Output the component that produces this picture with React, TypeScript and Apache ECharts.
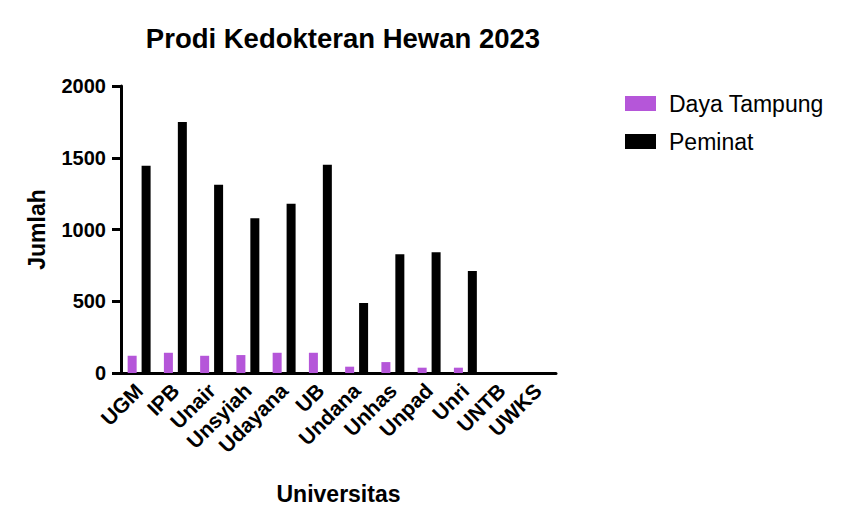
import React, { useEffect, useRef } from "react";
import * as echarts from "echarts";

const categories = ["UGM", "IPB", "Unair", "Unsyiah", "Udayana", "UB", "Undana", "Unhas", "Unpad", "Unri", "UNTB", "UWKS"];
const dayaTampung = [120, 141, 120, 125, 141, 141, 44, 76, 37, 37, 0, 0];
const peminat = [1445, 1750, 1312, 1078, 1180, 1451, 488, 828, 842, 710, 0, 0];
const yTicks = { min: 0, max: 2000, interval: 500 };

const FONT = "'Liberation Sans', Arial, sans-serif";

export default function App() {
  const ref = useRef<HTMLDivElement>(null);
  useEffect(() => {
    if (!ref.current) return;
    const chart = echarts.init(ref.current, undefined, { renderer: "svg" });
    chart.setOption({
      animation: false,
      backgroundColor: "#ffffff",
      title: {
        text: "Prodi Kedokteran Hewan 2023",
        left: 338,
        textAlign: "center",
        top: 19,
        textStyle: { fontFamily: FONT, fontWeight: "bold", fontSize: 27.5, color: "#000" },
      },
      legend: {
        left: 620,
        top: 87,
        orient: "vertical",
        itemWidth: 31,
        itemHeight: 15,
        itemGap: 15,
        icon: "rect",
        textStyle: { fontFamily: FONT, fontSize: 23, lineHeight: 23, color: "#000", padding: [0, 0, 0, 8] },
        data: ["Daya Tampung", "Peminat"],
      },
      grid: { left: 121, right: 293, top: 86, bottom: 156 },
      xAxis: {
        type: "category",
        data: categories,
        name: "Universitas",
        nameLocation: "middle",
        nameGap: 109,
        nameTextStyle: { fontFamily: FONT, fontWeight: "bold", fontSize: 23, color: "#000" },
        axisLine: { lineStyle: { color: "#000", width: 3 } },
        axisTick: { alignWithLabel: true, length: 11, lineStyle: { color: "#000", width: 3 } },
        axisLabel: { rotate: 45, fontFamily: FONT, fontWeight: "bold", fontSize: 21, color: "#000", margin: 14, interval: 0 },
      },
      yAxis: {
        type: "value",
        min: yTicks.min,
        max: yTicks.max,
        interval: yTicks.interval,
        name: "Jumlah",
        nameLocation: "middle",
        nameGap: 73,
        nameTextStyle: { fontFamily: FONT, fontWeight: "bold", fontSize: 23, color: "#000" },
        axisLine: { show: true, lineStyle: { color: "#000", width: 3 } },
        axisTick: { show: true, length: 9, lineStyle: { color: "#000", width: 3 } },
        axisLabel: { fontFamily: FONT, fontWeight: "bold", fontSize: 20, color: "#000", margin: 15, formatter: (v: number) => String(v) },
        splitLine: { show: false },
      },
      series: [
        {
          name: "Daya Tampung",
          type: "bar",
          data: dayaTampung,
          barWidth: 9,
          barGap: "55%",
          itemStyle: { color: "#b556d9" },
        },
        {
          name: "Peminat",
          type: "bar",
          data: peminat,
          barWidth: 9,
          barGap: "55%",
          itemStyle: { color: "#000000" },
        },
      ],
    });
    return () => chart.dispose();
  }, []);
  return <div ref={ref} style={{ width: 849, height: 529, margin: -8 }} />;
}
